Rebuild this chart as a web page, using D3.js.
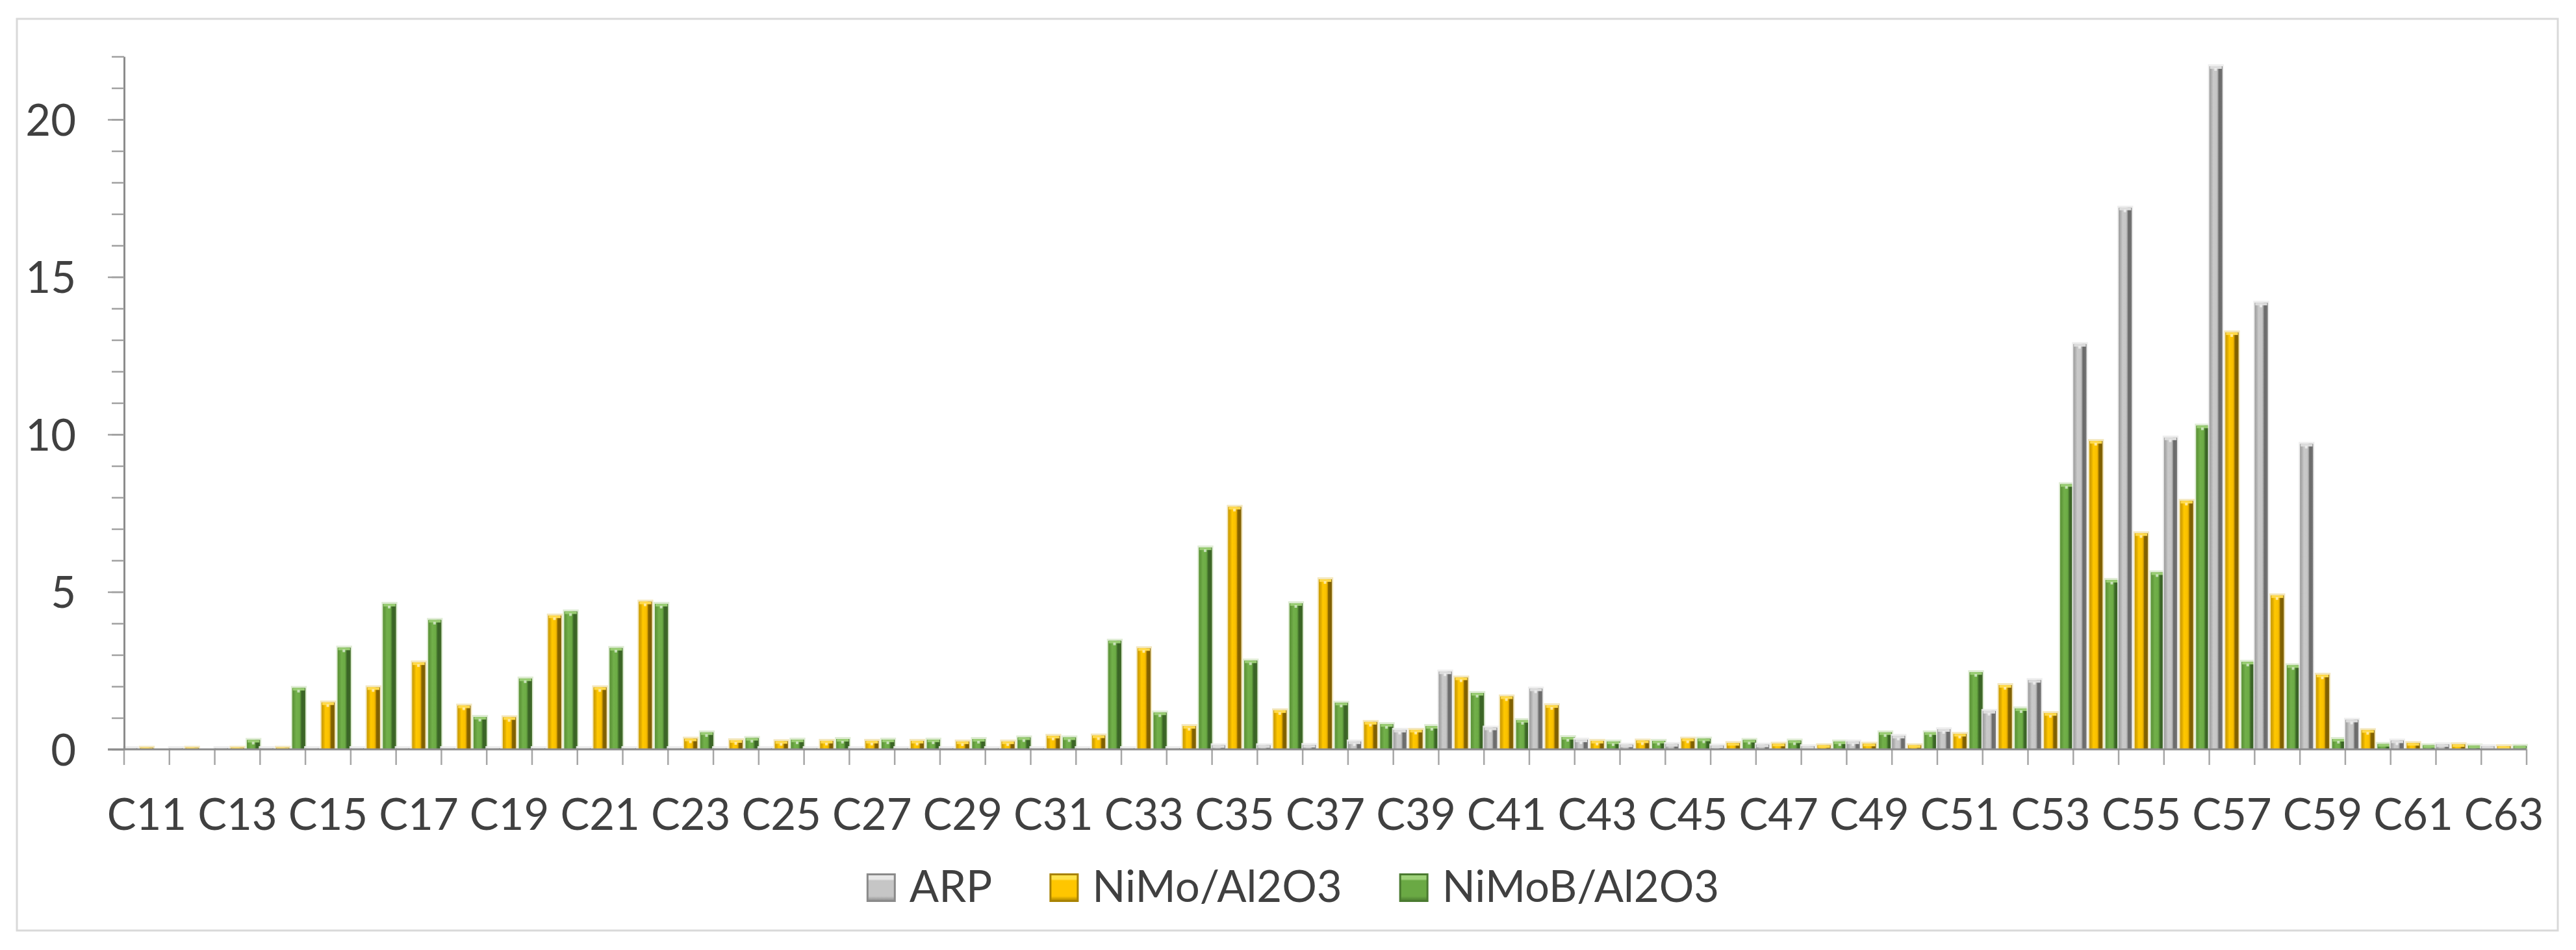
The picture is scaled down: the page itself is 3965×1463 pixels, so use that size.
<!DOCTYPE html>
<html>
<head>
<meta charset="utf-8">
<script src="https://cdn.jsdelivr.net/npm/d3@7"></script>
<style>
  body { margin: 0; background: #fff; }
  svg { display: block; }
  text { font-family: Lato, "Open Sans", sans-serif; fill: #404040; }
</style>
</head>
<body>
<svg id="chart"></svg>
<script>
const categories = [
    "C11", "C12", "C13", "C14", "C15", "C16", "C17", "C18", "C19", "C20",
    "C21", "C22", "C23", "C24", "C25", "C26", "C27", "C28", "C29", "C30",
    "C31", "C32", "C33", "C34", "C35", "C36", "C37", "C38", "C39", "C40",
    "C41", "C42", "C43", "C44", "C45", "C46", "C47", "C48", "C49", "C50",
    "C51", "C52", "C53", "C54", "C55", "C56", "C57", "C58", "C59", "C60",
    "C61", "C62", "C63"
];

const seriesNames = ["ARP", "NiMo/Al2O3", "NiMoB/Al2O3"];

const arpValues = [
    0.04, 0.04, 0.04, 0.04, 0.04, 0.04, 0.04, 0.04, 0.04, 0.04,
    0.04, 0.04, 0.04, 0.04, 0.04, 0.04, 0.04, 0.04, 0.04, 0.04,
    0.04, 0.04, 0.04, 0.04, 0.13, 0.13, 0.14, 0.25, 0.62, 2.47,
    0.69, 1.93, 0.31, 0.15, 0.17, 0.12, 0.15, 0.10, 0.25, 0.43,
    0.64, 1.22, 2.20, 12.87, 17.2, 9.9, 21.69, 14.18, 9.70, 0.94,
    0.28, 0.16, 0.10
];

const nimoValues = [
    0.05, 0.05, 0.05, 0.05, 1.49, 1.97, 2.76, 1.39, 1.02, 4.25,
    1.97, 4.69, 0.34, 0.29, 0.26, 0.27, 0.27, 0.27, 0.25, 0.25,
    0.43, 0.44, 3.21, 0.74, 7.70, 1.24, 5.40, 0.87, 0.62, 2.28,
    1.68, 1.40, 0.27, 0.28, 0.34, 0.20, 0.18, 0.13, 0.18, 0.13,
    0.49, 2.04, 1.15, 9.79, 6.86, 7.89, 13.24, 4.89, 2.37, 0.61,
    0.20, 0.16, 0.10
];

const nimobValues = [
    0, 0, 0.30, 1.95, 3.23, 4.62, 4.11, 1.03, 2.25, 4.38,
    3.22, 4.62, 0.54, 0.36, 0.31, 0.33, 0.31, 0.31, 0.33, 0.38,
    0.38, 3.45, 1.17, 6.41, 2.82, 4.64, 1.48, 0.80, 0.74, 1.79,
    0.93, 0.39, 0.25, 0.27, 0.34, 0.30, 0.28, 0.25, 0.54, 0.54,
    2.45, 1.30, 8.42, 5.38, 5.62, 10.28, 2.78, 2.67, 0.33, 0.17,
    0.13, 0.12, 0.11
];

const xTickLabels = [
    "C11", "C13", "C15", "C17", "C19", "C21", "C23", "C25", "C27", "C29",
    "C31", "C33", "C35", "C37", "C39", "C41", "C43", "C45", "C47", "C49",
    "C51", "C53", "C55", "C57", "C59", "C61", "C63"
];

const yMajorTicks = [0, 5, 10, 15, 20];
const yMax = 22;

// look of each series: bevelled bar gradient (left to right), top cap, soft glow
const styles = [
    {
        stops: [[0, "#9c9c9c"], [0.18, "#b3b3b3"], [0.3, "#c9c9c9"], [0.56, "#c6c6c6"],
                [0.66, "#a4a4a4"], [0.72, "#6c6c6c"], [0.86, "#6c6c6c"], [1, "#7e7e7e"]],
        cap: "#dcdcdc", glow: "#ececec", edge: "#8a8a8a", light: "#e8e8e8", body: "#c6c6c6"
    },
    {
        stops: [[0, "#c99a00"], [0.18, "#e2ae00"], [0.3, "#ffc800"], [0.56, "#f9c000"],
                [0.66, "#d9a200"], [0.72, "#8a6800"], [0.86, "#7d5e00"], [1, "#8c6c10"]],
        cap: "#ffd94a", glow: "#f2e4b6", edge: "#a88200", light: "#ffe24a", body: "#ffc600"
    },
    {
        stops: [[0, "#5b9237"], [0.18, "#66a040"], [0.3, "#72b04a"], [0.56, "#6cab45"],
                [0.66, "#4f8432"], [0.72, "#3b6526"], [0.86, "#3b6526"], [1, "#46702e"]],
        cap: "#98cc72", glow: "#dceacf", edge: "#4a7a30", light: "#9fd27a", body: "#6aa944"
    }
];

const width = 3965;
const height = 1463;
const margin = { top: 87, right: 76, bottom: 309, left: 191 };

const svg = d3.select("#chart")
    .attr("width", width)
    .attr("height", height);

// chart frame
svg.append("rect")
    .attr("x", 26)
    .attr("y", 29)
    .attr("width", 3911)
    .attr("height", 1404)
    .attr("fill", "#fff")
    .attr("stroke", "#d9d9d9")
    .attr("stroke-width", 3);

const x0 = d3.scaleBand()
    .domain(categories)
    .range([margin.left, width - margin.right])
    .padding(0);

const x1 = d3.scaleBand()
    .domain(seriesNames)
    .range([0, x0.bandwidth()])
    .paddingInner(0.18);

const y = d3.scaleLinear()
    .domain([0, yMax])
    .range([height - margin.bottom, margin.top]);

const defs = svg.append("defs");

styles.forEach((s, i) => {
    const grad = defs.append("linearGradient")
        .attr("id", `bar-${i}`)
        .attr("x1", 0).attr("y1", 0)
        .attr("x2", 1).attr("y2", 0);
    s.stops.forEach(([o, c]) => grad.append("stop").attr("offset", o).attr("stop-color", c));

    const leg = defs.append("linearGradient")
        .attr("id", `leg-${i}`)
        .attr("x1", 0).attr("y1", 0)
        .attr("x2", 0).attr("y2", 1);
    leg.append("stop").attr("offset", 0).attr("stop-color", s.light);
    leg.append("stop").attr("offset", 0.18).attr("stop-color", s.light);
    leg.append("stop").attr("offset", 0.24).attr("stop-color", s.body);
    leg.append("stop").attr("offset", 0.82).attr("stop-color", s.body);
    leg.append("stop").attr("offset", 1).attr("stop-color", s.edge);
});

const rows = categories.map((c, i) => ({
    cat: c,
    values: [arpValues[i], nimoValues[i], nimobValues[i]]
}));

const groups = svg.append("g")
    .selectAll("g")
    .data(rows)
    .join("g")
    .attr("transform", d => `translate(${x0(d.cat)},0)`);

const bars = groups.selectAll("g")
    .data(d => d.values.map((v, i) => ({ name: seriesNames[i], value: v, i })))
    .join("g");

const bw = x1.bandwidth();
const barH = d => y(0) - y(d.value);

// soft glow behind each bar
bars.append("rect")
    .attr("x", d => x1(d.name) - 2)
    .attr("y", d => y(d.value) - 3)
    .attr("width", bw + 4)
    .attr("height", d => barH(d) + 3)
    .attr("fill", d => styles[d.i].glow)
    .attr("opacity", d => d.value > 0 ? 0.9 : 0);

bars.append("rect")
    .attr("x", d => x1(d.name))
    .attr("y", d => y(d.value))
    .attr("width", bw)
    .attr("height", barH)
    .attr("fill", d => `url(#bar-${d.i})`);

// bevel cap on top
bars.append("rect")
    .attr("x", d => x1(d.name) + 1)
    .attr("y", d => y(d.value))
    .attr("width", bw - 2)
    .attr("height", d => Math.min(4, barH(d)))
    .attr("fill", d => styles[d.i].cap);

bars.filter(d => barH(d) > 10)
    .append("rect")
    .attr("x", d => x1(d.name) + bw * 0.38)
    .attr("y", d => y(d.value) + 3)
    .attr("width", 4)
    .attr("height", 4)
    .attr("fill", "#fff")
    .attr("opacity", 0.6);

// y axis: minor ticks every 1, major every 5 with labels
svg.append("g")
    .attr("transform", `translate(${margin.left},0)`)
    .call(d3.axisLeft(y)
        .tickValues(d3.range(0, yMax + 1))
        .tickSize(19)
        .tickSizeOuter(0)
        .tickFormat(""))
    .call(g => g.select(".domain").attr("stroke", "#8c8c8c").attr("stroke-width", 3))
    .call(g => g.selectAll(".tick line").attr("stroke", "#a0a0a0").attr("stroke-width", 2.5));

svg.append("g")
    .attr("transform", `translate(${margin.left},0)`)
    .call(d3.axisLeft(y)
        .tickValues(yMajorTicks)
        .tickSize(25)
        .tickSizeOuter(0)
        .tickPadding(49))
    .call(g => g.select(".domain").remove())
    .call(g => g.selectAll(".tick line").attr("stroke", "#a0a0a0").attr("stroke-width", 2.5))
    .call(g => g.selectAll(".tick text")
        .attr("font-size", 67)
        .attr("font-family", "Lato, 'Open Sans', sans-serif")
        .attr("fill", "#404040")
        .attr("dy", "0.36em"));

// x axis: line, ticks on category boundaries, labels on every other category
const xAxis = svg.append("g");

xAxis.append("g")
    .selectAll("line")
    .data(categories.map(c => x0(c)).concat([x0.range()[1]]))
    .join("line")
    .attr("x1", d => d)
    .attr("x2", d => d)
    .attr("y1", y(0))
    .attr("y2", y(0) + 24)
    .attr("stroke", "#a6a6a6")
    .attr("stroke-width", 2.5);

xAxis.append("line")
    .attr("x1", x0.range()[0] - 25)
    .attr("x2", x0.range()[1])
    .attr("y1", y(0))
    .attr("y2", y(0))
    .attr("stroke", "#8c8c8c")
    .attr("stroke-width", 3);

xAxis.append("g")
    .selectAll("text")
    .data(xTickLabels)
    .join("text")
    .attr("x", d => x0(d) + x0.bandwidth() / 2)
    .attr("y", y(0) + 124)
    .attr("text-anchor", "middle")
    .attr("font-size", 67)
    .text(d => d);

// legend
const legend = svg.append("g");
let cursor = 0;
seriesNames.forEach((name, i) => {
    const item = legend.append("g")
        .attr("transform", `translate(${cursor},0)`);

    item.append("rect")
        .attr("x", 1.5)
        .attr("y", 1346.5)
        .attr("width", 42)
        .attr("height", 41)
        .attr("fill", `url(#leg-${i})`)
        .attr("stroke", styles[i].edge)
        .attr("stroke-width", 3);

    const t = item.append("text")
        .attr("x", 66)
        .attr("y", 1389)
        .attr("font-size", 67)
        .text(name);

    cursor += 66 + t.node().getComputedTextLength() + 88;
});
const legendWidth = cursor - 88;
legend.attr("transform", `translate(${1990 - legendWidth / 2},0)`);
</script>
</body>
</html>
